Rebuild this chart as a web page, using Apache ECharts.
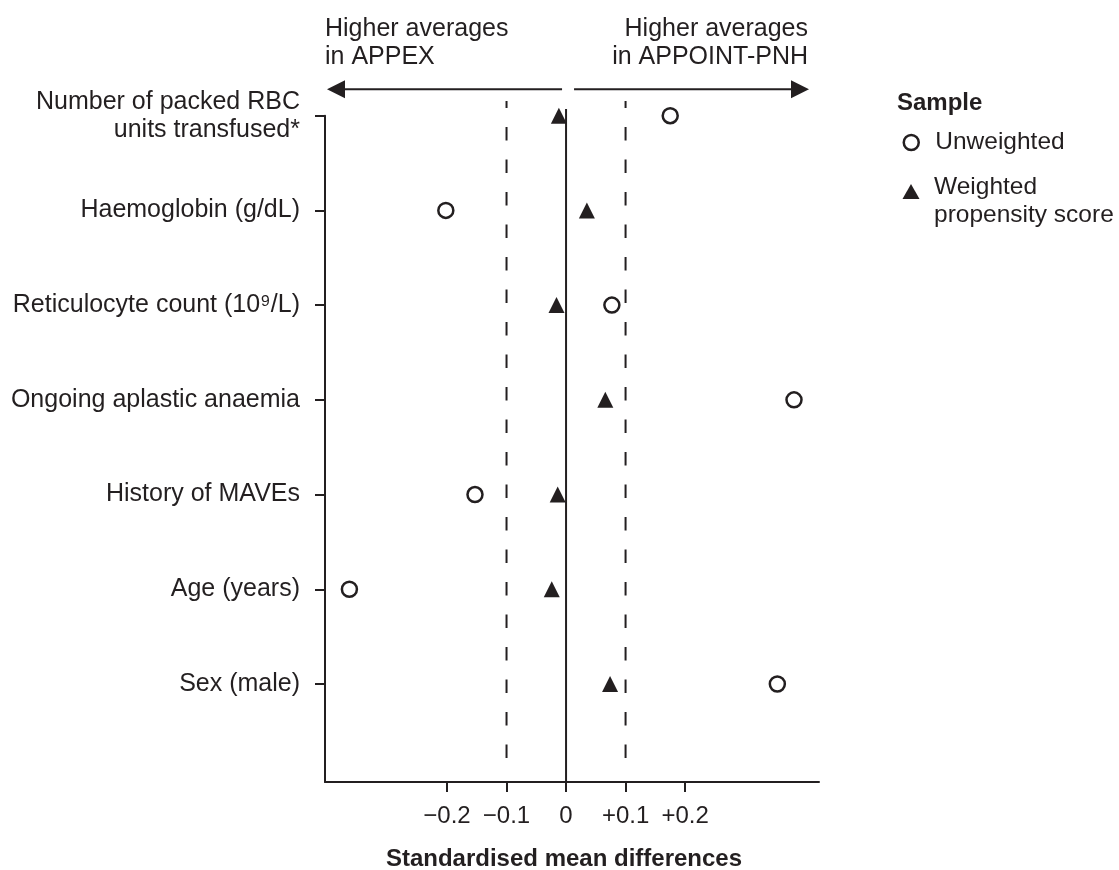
<!DOCTYPE html>
<html>
<head>
<meta charset="utf-8">
<script src="https://cdn.jsdelivr.net/npm/echarts@6/dist/echarts.min.js"></script>
<style>
  html, body { margin: 0; padding: 0; background: #ffffff; }
  #chart { width: 1119px; height: 870px; }
</style>
</head>
<body>
<div id="chart"></div>
<script>
// Covariates, listed top to bottom
const categories = [
  'Number of packed RBC\nunits transfused*',
  'Haemoglobin (g/dL)',
  'Reticulocyte count (10\u2079/L)',
  'Ongoing aplastic anaemia',
  'History of MAVEs',
  'Age (years)',
  'Sex (male)'
];
// Standardised mean differences per covariate
const unweighted = [0.175, -0.202, 0.077, 0.383, -0.153, -0.364, 0.355];
const weighted   = [-0.012, 0.035, -0.016, 0.066, -0.014, -0.024, 0.074];
const seriesNames = ['Unweighted', 'Weighted propensity score'];
const xTicks = [-0.2, -0.1, 0, 0.1, 0.2];
const balanceLimits = [-0.1, 0.1];

const INK = '#231f20';
const FONT = '"Liberation Sans", Arial, Helvetica, sans-serif';
const N = categories.length;
const rowOf = i => N - i;          // first covariate sits at the top
const rowValues = categories.map((c, i) => rowOf(i));
const X_MIN = -0.405, X_MAX = 0.425, Y_MIN = -0.035;

const chart = echarts.init(document.getElementById('chart'), null, { renderer: 'canvas' });

const option = {
  animation: false,
  backgroundColor: '#ffffff',
  textStyle: { fontFamily: FONT, color: INK },
  grid: { left: 325, right: 300, top: 115.7, bottom: 88, containLabel: false, outerBoundsMode: 'none' },
  xAxis: {
    type: 'value',
    min: X_MIN,
    max: X_MAX,
    splitLine: { show: false },
    axisLine: { show: true, onZero: false, lineStyle: { color: INK, width: 2 } },
    axisTick: { show: true, customValues: xTicks, length: 10, lineStyle: { color: INK, width: 2 } },
    axisLabel: {
      customValues: xTicks,
      margin: 22,
      fontSize: 24,
      color: INK,
      fontFamily: FONT,
      formatter: v => v === 0 ? '0' : (v < 0 ? '\u2212' : '+') + Math.abs(v).toFixed(1)
    },
    name: 'Standardised mean differences',
    nameLocation: 'middle',
    nameGap: 65,
    nameMoveOverlap: false,
    nameTextStyle: { fontSize: 24, fontWeight: 'bold', color: INK, fontFamily: FONT, padding: [0, 16, 0, 0] }
  },
  yAxis: {
    type: 'value',
    min: Y_MIN,
    max: N,
    splitLine: { show: false },
    axisLine: { show: true, onZero: false, lineStyle: { color: INK, width: 2 } },
    axisTick: { show: true, customValues: rowValues, length: 10, lineStyle: { color: INK, width: 2 } },
    axisLabel: {
      customValues: rowValues,
      margin: 25,
      fontSize: 25,
      lineHeight: 28,
      color: INK,
      fontFamily: FONT,
      formatter: v => categories[N - v]
    }
  },
  legend: [
    {
      data: [{ name: seriesNames[0], icon: 'circle' }],
      left: 902.5, top: 128.5, padding: 0,
      itemWidth: 15, itemHeight: 15,
      selectedMode: false,
      itemStyle: { color: '#ffffff', borderColor: INK, borderWidth: 2.5 },
      textStyle: { fontSize: 24.5, lineHeight: 28, color: INK, fontFamily: FONT, padding: [0, 0, 0, 11.5] }
    },
    {
      data: [{ name: seriesNames[1], icon: 'triangle' }],
      left: 902.5, top: 158.5, padding: 0,
      itemWidth: 17, itemHeight: 15,
      symbolKeepAspect: false,
      selectedMode: false,
      // a short spacer line lifts the two text lines so the first one sits beside the marker
      formatter: () => '{s| }\n{t|Weighted}\n{t|propensity score}',
      itemStyle: { color: INK, borderWidth: 0 },
      textStyle: {
        fontSize: 24.5, color: INK, fontFamily: FONT, padding: [0, 0, 0, 9.5],
        rich: {
          s: { fontSize: 10, lineHeight: 19 },
          t: { fontSize: 24.5, lineHeight: 28, color: INK, fontFamily: FONT }
        }
      }
    }
  ],
  series: [
    {
      name: seriesNames[0],
      type: 'scatter',
      data: unweighted.map((v, i) => [v, rowOf(i)]),
      symbol: 'circle',
      symbolSize: 15,
      itemStyle: { color: '#ffffff', borderColor: INK, borderWidth: 2.5, opacity: 1 },
      emphasis: { disabled: true },
      z: 3
    },
    {
      name: seriesNames[1],
      type: 'scatter',
      data: weighted.map((v, i) => [v, rowOf(i)]),
      symbol: 'triangle',
      symbolSize: [16, 16],
      itemStyle: { color: INK, opacity: 1 },
      emphasis: { disabled: true },
      z: 4
    }
  ]
};

chart.setOption(option);

// Reference lines, direction arrows and annotation text, placed from the axes' own scales
const px = (x, y) => chart.convertToPixel({ gridIndex: 0 }, [x, y]);
const yTop = px(0, N)[1];
const yBottom = px(0, Y_MIN)[1];
const xLeft = px(X_MIN, 0)[0];
const xRight = px(X_MAX, 0)[0];
const x0 = px(0, 0)[0];

const graphics = [];

balanceLimits.forEach(v => {
  const x = px(v, 0)[0];
  graphics.push({
    type: 'line', z: 1, silent: true,
    shape: { x1: x, y1: yTop - 14.7, x2: x, y2: yBottom - 20 },
    style: { stroke: INK, lineWidth: 2, lineDash: [13.5, 19], lineDashOffset: 6.6 }
  });
});

// zero line
graphics.push({
  type: 'line', z: 1, silent: true,
  shape: { x1: x0, y1: yTop - 6.7, x2: x0, y2: yBottom },
  style: { stroke: INK, lineWidth: 2 }
});

// direction arrows
const arrowY = yTop - 26.4;
const head = 18, half = 9;
const leftTip = xLeft + 2, rightTip = xRight - 10;
graphics.push(
  { type: 'line', z: 1, silent: true,
    shape: { x1: x0 - 4, y1: arrowY, x2: leftTip + head - 1, y2: arrowY },
    style: { stroke: INK, lineWidth: 2 } },
  { type: 'polygon', z: 1, silent: true,
    shape: { points: [[leftTip, arrowY], [leftTip + head, arrowY - half], [leftTip + head, arrowY + half]] },
    style: { fill: INK } },
  { type: 'line', z: 1, silent: true,
    shape: { x1: x0 + 8, y1: arrowY, x2: rightTip - head + 1, y2: arrowY },
    style: { stroke: INK, lineWidth: 2 } },
  { type: 'polygon', z: 1, silent: true,
    shape: { points: [[rightTip, arrowY], [rightTip - head, arrowY - half], [rightTip - head, arrowY + half]] },
    style: { fill: INK } }
);

// arrow captions
graphics.push(
  { type: 'text', silent: true,
    style: { text: 'Higher averages\nin APPEX', x: xLeft, y: 15, align: 'left', verticalAlign: 'top',
             fontSize: 25, lineHeight: 28, fontFamily: FONT, fill: INK } },
  { type: 'text', silent: true,
    style: { text: 'Higher averages\nin APPOINT-PNH', x: rightTip - 1, y: 15, align: 'right', verticalAlign: 'top',
             fontSize: 25, lineHeight: 28, fontFamily: FONT, fill: INK } }
);

// legend heading
graphics.push({
  type: 'text', silent: true,
  style: { text: 'Sample', x: 897, y: 89, align: 'left', verticalAlign: 'top',
           fontSize: 24, lineHeight: 28, fontWeight: 'bold', fontFamily: FONT, fill: INK }
});

chart.setOption({ graphic: graphics });
</script>
</body>
</html>
